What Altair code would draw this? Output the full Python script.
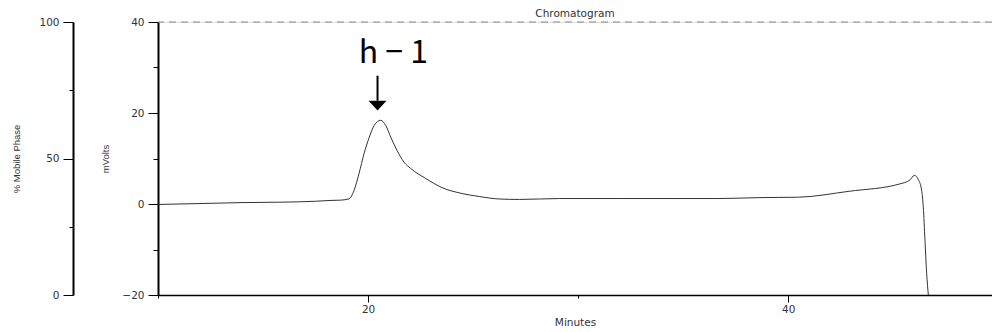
import altair as alt
import pandas as pd

# Detector trace (minutes, mV)
time_min = [10.0, 12.0, 13.9, 15.8, 17.5, 18.14, 18.7, 19.1, 19.33, 19.57, 19.81, 20.05,
            20.29, 20.6, 20.84, 21.08, 21.38, 21.71, 22.03, 22.75, 23.52, 24.48, 25.29,
            26.24, 27.2, 29.1, 31.95, 34.8, 36.7, 38.6, 40.5, 42.9, 45.3, 45.8, 46.0, 46.2,
            46.35, 46.43, 46.51, 46.59, 46.67]
mvolts = [-0.1, 0.1, 0.3, 0.4, 0.6, 0.77, 0.85, 1.14, 2.97, 6.7, 11.1, 14.6,
          17.25, 18.4, 17.25, 14.7, 11.75, 9.2, 7.8, 5.6, 3.6, 2.3, 1.65,
          1.1, 1.0, 1.2, 1.2, 1.2, 1.2, 1.4, 1.5, 2.8, 4.4, 5.3, 6.3, 5.3,
          3.0, -0.7, -8.0, -15.3, -20.0]

# Peak annotation
peak_label = ["h \u2212 1"]
label_pos = [21.2, 30.9]      # minutes, mV (text baseline)
arrow_t = [20.45]
arrow_from = [28.2]
arrow_to = [22.7]

top_line = [40]
mobile_range = [0, 100]

x_ticks = [10, 20, 30, 40]
mv_ticks = [-20, -10, 0, 10, 20, 30, 40]
mobile_ticks = [0, 25, 50, 75, 100]

FONT = "DejaVu Sans"
TITLE_FONT = "Liberation Sans"

trace_df = pd.DataFrame({"t": time_min, "mv": mvolts})
label_df = pd.DataFrame({"t": [label_pos[0]], "mv": [label_pos[1]], "label": peak_label})
arrow_df = pd.DataFrame({"t": arrow_t, "mv": arrow_from, "mv2": arrow_to})
head_df = pd.DataFrame({"t": arrow_t, "mv": arrow_to})
top_df = pd.DataFrame({"mv": top_line})
mobile_df = pd.DataFrame({"pct": mobile_range})

x_scale = alt.Scale(domain=[10, 49.7], nice=False, zero=False)
mv_scale = alt.Scale(domain=[-20, 40], nice=False, zero=False)

x_axis = alt.Axis(
    values=x_ticks,
    labelExpr="datum.value % 20 === 0 ? datum.label : ''",
    tickSize={"condition": {"test": "datum.value % 20 === 0", "value": 7}, "value": 3},
    tickColor="black", domainColor="black", domainWidth=1.5,
    labelColor="#333", labelFont=FONT, labelFontSize=10.5, labelPadding=2,
    title="Minutes", titleFont=FONT, titleFontSize=10.5, titleFontWeight="normal",
    titleColor="#333", titlePadding=3, grid=False,
)
mv_axis = alt.Axis(
    values=mv_ticks,
    labelExpr="datum.value % 20 === 0 ? datum.label : ''",
    tickSize={"condition": {"test": "datum.value % 20 === 0", "value": 10}, "value": 5},
    tickColor="black", domainColor="black", domainWidth=2,
    labelColor="#333", labelFont=FONT, labelFontSize=10.5, labelPadding=4,
    title="mVolts", titleFont=TITLE_FONT, titleFontSize=9.5, titleFontWeight="normal",
    titleColor="#333", titlePadding=11, grid=False,
)
mobile_axis = alt.Axis(
    orient="left", offset=85,
    values=mobile_ticks,
    labelExpr="datum.value % 50 === 0 ? datum.label : ''",
    tickSize={"condition": {"test": "datum.value % 50 === 0", "value": 10}, "value": 4},
    tickColor="black", domainColor="black", domainWidth=2,
    labelColor="#333", labelFont=FONT, labelFontSize=10.5, labelPadding=4,
    title="% Mobile Phase", titleFont=TITLE_FONT, titleFontSize=9.5, titleFontWeight="normal",
    titleColor="#333", titlePadding=17, grid=False,
)

X = alt.X("t:Q", scale=x_scale, axis=x_axis)
Y = alt.Y("mv:Q", scale=mv_scale, axis=mv_axis)

top_rule = alt.Chart(top_df).mark_rule(color="#888", strokeDash=[7, 5], strokeWidth=1.2).encode(y=Y)

trace = alt.Chart(trace_df).mark_line(
    color="#333", strokeWidth=1, clip=True, interpolate="monotone"
).encode(x=X, y=Y)

label = alt.Chart(label_df).mark_text(
    font="Noto Sans CJK KR", fontSize=32, baseline="alphabetic", align="center", color="black"
).encode(x=X, y=Y, text="label:N")

arrow = alt.Chart(arrow_df).mark_rule(color="black", strokeWidth=2).encode(
    x=X, y=Y, y2="mv2:Q"
)
head = alt.Chart(head_df).mark_point(
    shape="M-1,0 L1,0 L0,1.1 Z", filled=True, color="black", opacity=1, size=324
).encode(x=X, y=Y)

mv_layers = alt.layer(top_rule, trace, label, arrow, head)

mobile = alt.Chart(mobile_df).mark_point(opacity=0).encode(
    y=alt.Y("pct:Q", scale=alt.Scale(domain=[0, 100], nice=False), axis=mobile_axis)
)

chart = alt.layer(mv_layers, mobile).resolve_scale(y="independent").properties(
    width=834, height=273,
    title=alt.TitleParams("Chromatogram", font=FONT, fontSize=10.5, fontWeight="normal",
                          color="#333", offset=-2),
    autosize=alt.AutoSizeParams(type="none"),
    padding={"left": 158, "top": 22, "right": 0, "bottom": 37},
).configure_view(stroke=None).configure(background="white")

chart.save("out.html", embed_options={"renderer": "svg", "actions": False})
